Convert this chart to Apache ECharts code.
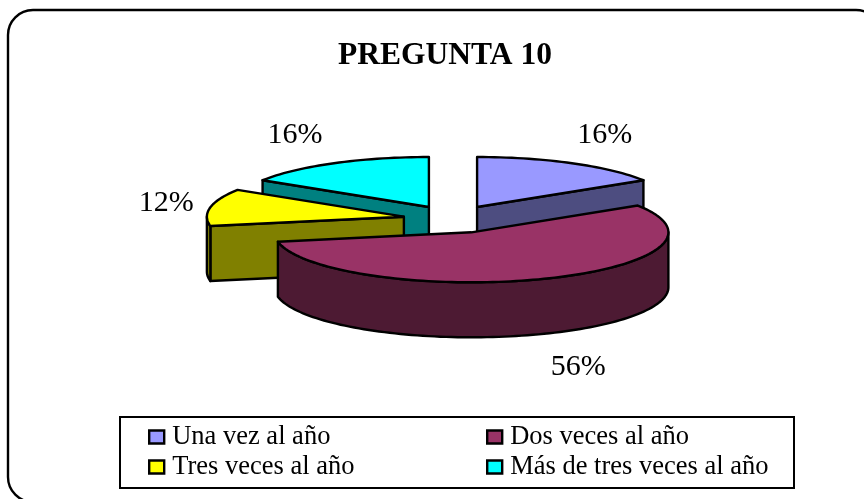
<!DOCTYPE html>
<html><head><meta charset="utf-8">
<style>html,body{margin:0;padding:0;background:#fff}#c{width:864px;height:499px}</style>
<script src="https://cdn.jsdelivr.net/npm/echarts@6/dist/echarts.min.js"></script>
</head><body><div id="c"></div>
<script>
const titleText = 'PREGUNTA 10';
const categories = ['Una vez al año', 'Dos veces al año', 'Tres veces al año', 'Más de tres veces al año'];
const values = [16, 56, 12, 16];
const topColors = ['#9999FF', '#993366', '#FFFF00', '#00FFFF'];
const wallColors = ['#4D4D80', '#4D1A33', '#808000', '#008080'];
const drawOrder = [3, 0, 2, 1];
const labelReach = [315, 340, 292, 328];

const FONT = '"Liberation Serif","Times New Roman",serif';
const CX = 453, CY = 219.3, RX = 197, RY = 50, DEPTH = 55, EXPLODE_X = 50, EXPLODE_Y = 14, LABEL_RY = 98, LABEL_DY = 2;
const total = values.reduce((a, b) => a + b, 0);

function pt(o, a, rx, ry) { return [o[0] + rx * Math.sin(a), o[1] - ry * Math.cos(a)]; }
function arc(o, a0, a1) {
  const out = [], n = Math.max(2, Math.ceil((a1 - a0) / 0.03));
  for (let i = 0; i <= n; i++) out.push(pt(o, a0 + (a1 - a0) * i / n, RX, RY));
  return out;
}
const down = p => [p[0], p[1] + DEPTH];
const stroke = { stroke: '#000', lineWidth: 2.4, lineJoin: 'round' };

function renderSlice(idx) {
  return function () {
    const before = values.slice(0, idx).reduce((a, b) => a + b, 0);
    const a0 = before / total * 2 * Math.PI;
    const a1 = (before + values[idx]) / total * 2 * Math.PI;
    const mid = (a0 + a1) / 2;
    const o = pt([CX, CY], mid, EXPLODE_X, EXPLODE_Y);
    const poly = (points, fill) => ({
      type: 'polygon', shape: { points }, style: Object.assign({ fill }, stroke)
    });
    const children = [];
    const flat = a => {
      const e = pt(o, a, RX, RY);
      children.push(poly([o, e, down(e), down(o)], wallColors[idx]));
    };
    if (Math.sin(a0) < -1e-9) flat(a0);
    if (Math.sin(a1) > 1e-9) flat(a1);
    const w0 = Math.max(a0, Math.PI / 2), w1 = Math.min(a1, 1.5 * Math.PI);
    if (w1 > w0) {
      const edge = arc(o, w0, w1);
      children.push(poly(edge.concat(edge.map(down).reverse()), wallColors[idx]));
    }
    children.push(poly([o].concat(arc(o, a0, a1)), topColors[idx]));
    const lp = pt([CX, CY], mid, labelReach[idx], LABEL_RY);
    children.push({
      type: 'text',
      style: {
        x: lp[0], y: lp[1] + LABEL_DY + (Math.cos(mid) < 0 ? DEPTH : 0),
        text: Math.round(values[idx] / total * 100) + '%',
        font: '30px ' + FONT, fill: '#000', align: 'center', verticalAlign: 'middle'
      }
    });
    return { type: 'group', children };
  };
}

const series = drawOrder.map(i => ({
  type: 'custom', name: categories[i], coordinateSystem: 'none',
  data: [values[i]], silent: true, animation: false,
  itemStyle: { color: topColors[i] },
  renderItem: renderSlice(i)
}));

const legendBase = {
  orient: 'vertical', itemWidth: 15, itemHeight: 13, itemGap: 0, padding: 0,
  icon: 'rect', selectedMode: false,
  itemStyle: { borderColor: '#000', borderWidth: 2.4 },
  textStyle: { fontFamily: FONT, fontSize: 26.5, color: '#000', lineHeight: 26, padding: [4, 0, 0, 3] }
};

const chart = echarts.init(document.getElementById('c'), null, { renderer: 'canvas' });
chart.setOption({
  backgroundColor: '#fff',
  animation: false,
  title: {
    text: titleText, left: 440, top: 35, textAlign: 'center',
    textStyle: { fontFamily: FONT, fontSize: 31.5, fontWeight: 'bold', color: '#000' }
  },
  legend: [
    Object.assign({}, legendBase, { left: 148, top: 422, data: [categories[0], categories[2]] }),
    Object.assign({}, legendBase, { left: 486, top: 422, data: [categories[1], categories[3]] })
  ],
  graphic: [
    { type: 'rect', silent: true, z: -10, shape: { x: 8, y: 10, width: 873, height: 492, r: 25 },
      style: { fill: '#fff', stroke: '#000', lineWidth: 2.4 } },
    { type: 'rect', silent: true, z: -5, shape: { x: 120, y: 417, width: 674, height: 71 },
      style: { fill: '#fff', stroke: '#000', lineWidth: 2 } }
  ],
  series
});
</script></body></html>
